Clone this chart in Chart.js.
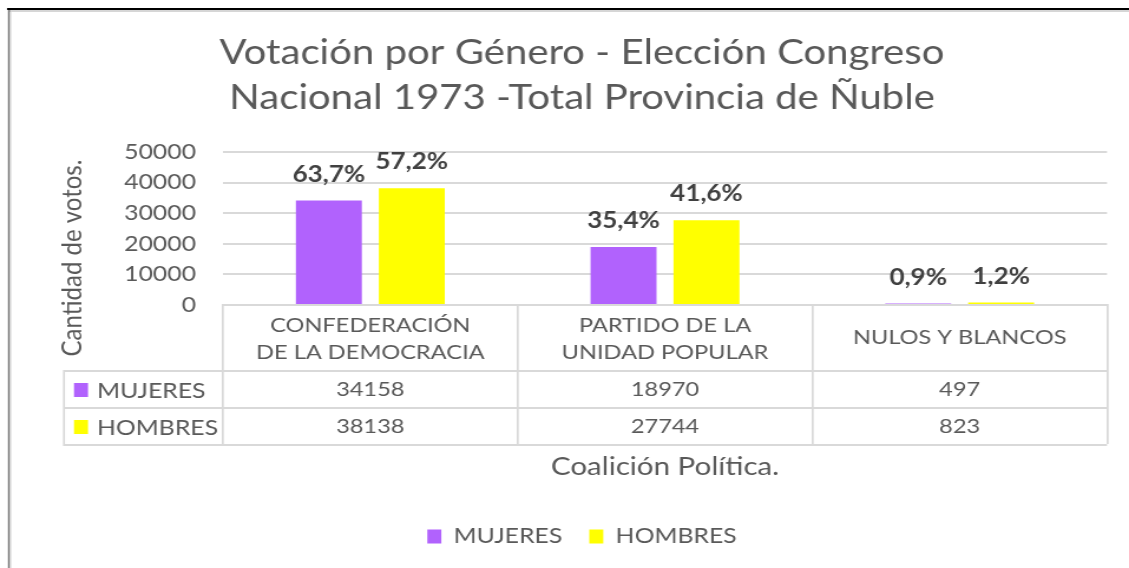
<!DOCTYPE html>
<html>
<head>
<meta charset="utf-8">
<script src="https://cdn.jsdelivr.net/npm/chart.js@4.4.1/dist/chart.umd.min.js"></script>
<style>
  html, body { margin: 0; padding: 0; background: #fff; overflow: hidden; }
  #chart { display: block; }
</style>
</head>
<body>
<canvas id="chart" width="957" height="568" style="width:1129px;height:568px"></canvas>
<script>
const categories = [['CONFEDERACIÓN', 'DE LA DEMOCRACIA'], ['PARTIDO DE LA', 'UNIDAD POPULAR'], ['NULOS Y BLANCOS']];
const seriesNames = ['MUJERES', 'HOMBRES'];
const mujeres = [34158, 18970, 497];
const hombres = [38138, 27744, 823];
const mujeresPct = ['63,7%', '35,4%', '0,9%'];
const hombresPct = ['57,2%', '41,6%', '1,2%'];
const yTicks = [0, 10000, 20000, 30000, 40000, 50000];

// the original picture is a horizontally stretched export, so draw narrow and stretch with css
const W = 957;
const SX = 1129 / W;
const ix = x => x / SX;

const FONT = 'Lato, "Open Sans", sans-serif';
const GRAY = '#595959';
const LINE = '#d9d9d9';
const colors = ['#b162fd', '#ffff00'];
const pctLabels = [mujeresPct, hombresPct];

const framePlugin = {
  id: 'frame',
  beforeDraw(chart) {
    const ctx = chart.ctx;
    ctx.save();
    ctx.fillStyle = '#fff';
    ctx.fillRect(0, 0, chart.width, chart.height);
    ctx.fillStyle = '#000';
    ctx.fillRect(ix(7), 8, chart.width, 2);
    ctx.fillStyle = '#d6d6d6';
    ctx.fillRect(ix(10), 10, chart.width, 2);
    ctx.fillStyle = '#777';
    ctx.fillRect(ix(8), 10, ix(2), chart.height);
    ctx.fillStyle = '#e2e2e2';
    ctx.fillRect(ix(10), 12, ix(1.5), chart.height);
    // y axis title
    ctx.translate(ix(72), 258);
    ctx.rotate(-Math.PI / 2);
    ctx.fillStyle = GRAY;
    ctx.font = '24px ' + FONT;
    ctx.textAlign = 'center';
    ctx.textBaseline = 'middle';
    ctx.fillText('Cantidad de votos.', 0, 0);
    ctx.restore();
  }
};

const labelPlugin = {
  id: 'pctLabels',
  afterDatasetsDraw(chart) {
    const ctx = chart.ctx;
    ctx.save();
    ctx.font = 'bold 22px ' + FONT;
    ctx.fillStyle = '#404040';
    ctx.textAlign = 'center';
    ctx.textBaseline = 'middle';
    chart.data.datasets.forEach((ds, d) => {
      chart.getDatasetMeta(d).data.forEach((bar, i) => {
        ctx.fillText(pctLabels[d][i], bar.x, bar.y - 26);
      });
    });
    ctx.restore();
  }
};

const tablePlugin = {
  id: 'dataTable',
  afterDraw(chart) {
    const ctx = chart.ctx;
    const x = chart.scales.x;
    const right = chart.chartArea.right;
    const left = ix(64);
    ctx.save();
    ctx.strokeStyle = LINE;
    ctx.lineWidth = 2;
    [371, 408, 445].forEach(y => {
      ctx.beginPath();
      ctx.moveTo(left, y);
      ctx.lineTo(right, y);
      ctx.stroke();
    });
    ctx.lineWidth = 1.7;
    ctx.beginPath();
    ctx.moveTo(left, 370);
    ctx.lineTo(left, 446);
    ctx.stroke();

    ctx.font = '20px ' + FONT;
    ctx.fillStyle = GRAY;
    ctx.textAlign = 'center';
    ctx.textBaseline = 'middle';
    categories.forEach((cat, i) => {
      const cx = x.getPixelForValue(i);
      if (cat.length === 2) {
        ctx.fillText(cat[0], cx, 326);
        ctx.fillText(cat[1], cx, 353);
      } else {
        ctx.fillText(cat[0], cx, 338);
      }
      ctx.fillText(String(mujeres[i]), cx, 390);
      ctx.fillText(String(hombres[i]), cx, 427);
    });
    ctx.textAlign = 'left';
    ctx.font = '21px ' + FONT;
    [390, 427].forEach((y, r) => {
      ctx.fillStyle = colors[r];
      ctx.fillRect(ix(74), y - 7, ix(14), 14);
      ctx.fillStyle = GRAY;
      ctx.fillText(seriesNames[r], ix(97), y + 1);
    });
    ctx.restore();
  }
};

new Chart(document.getElementById('chart'), {
  type: 'bar',
  data: {
    labels: categories.map(c => c.join(' ')),
    datasets: [
      { label: seriesNames[0], data: mujeres, backgroundColor: colors[0], barPercentage: 0.795, categoryPercentage: 0.563 },
      { label: seriesNames[1], data: hombres, backgroundColor: colors[1], barPercentage: 0.795, categoryPercentage: 0.563 }
    ]
  },
  options: {
    responsive: false,
    animation: false,
    devicePixelRatio: 1,
    layout: { padding: { left: ix(57), right: W - ix(1107), top: 7, bottom: 11 } },
    plugins: {
      title: {
        display: true,
        text: ['Votación por Género - Elección Congreso', 'Nacional 1973 -Total Provincia de Ñuble'],
        color: GRAY,
        font: { family: FONT, size: 34, weight: 'normal', lineHeight: 45 / 34 },
        padding: { top: 24, bottom: 31 }
      },
      legend: {
        position: 'bottom',
        labels: {
          boxWidth: ix(14),
          boxHeight: 14,
          padding: ix(27),
          color: GRAY,
          font: { family: FONT, size: 21 }
        }
      },
      tooltip: { enabled: false }
    },
    scales: {
      x: {
        offset: true,
        grid: { offset: true, drawOnChartArea: false, tickLength: 139, color: LINE, lineWidth: 1.7 },
        border: { display: true, color: LINE, width: 2 },
        ticks: { display: false },
        title: {
          display: true,
          text: 'Coalición Política.',
          color: GRAY,
          font: { family: FONT, size: 25 },
          padding: { top: 0, bottom: 21 }
        },
        afterFit: s => { s.height = 198; }
      },
      y: {
        min: 0,
        max: 50000,
        afterBuildTicks: s => { s.ticks = yTicks.map(v => ({ value: v })); },
        ticks: { color: GRAY, font: { family: FONT, size: 21 }, padding: ix(27), callback: v => String(v) },
        grid: { color: LINE, lineWidth: 2, drawTicks: false },
        border: { display: false },
        afterFit: s => { s.width = ix(223) - ix(57); }
      }
    }
  },
  plugins: [framePlugin, labelPlugin, tablePlugin]
});
</script>
</body>
</html>
